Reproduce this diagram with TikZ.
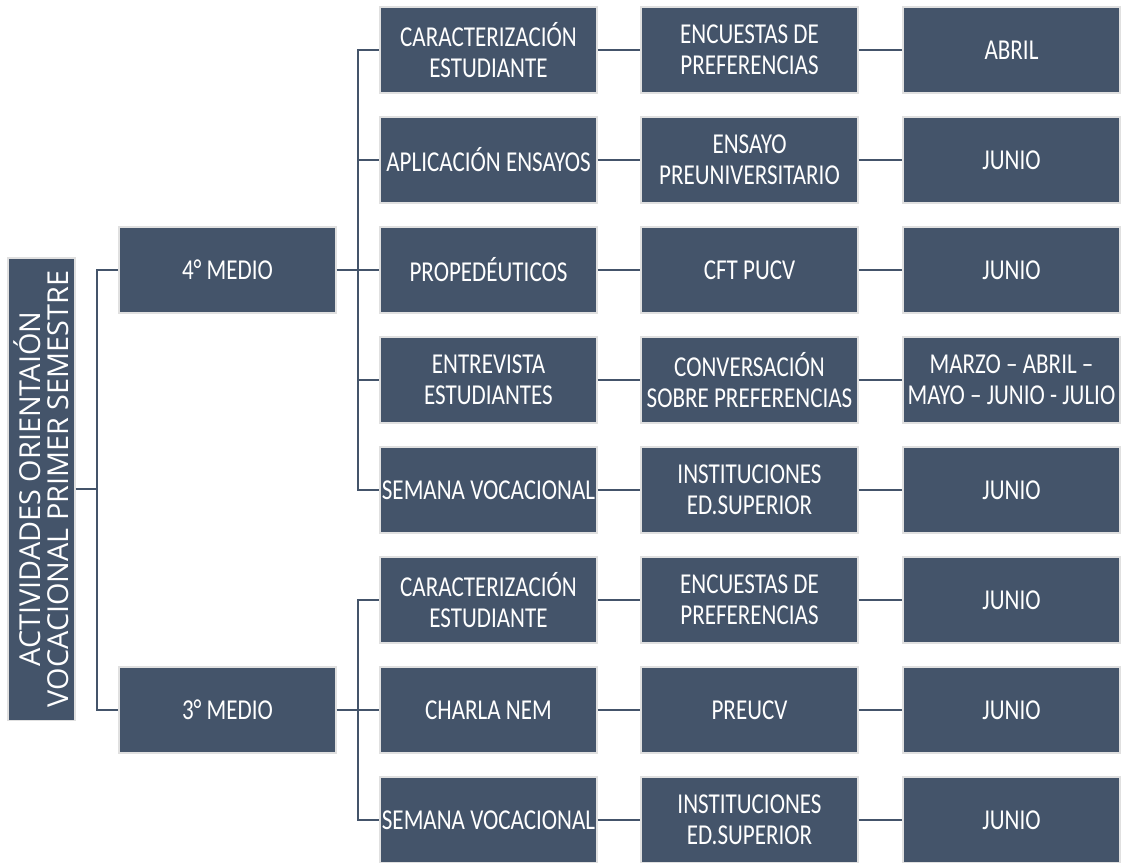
\documentclass[tikz,border=0pt]{standalone}
\usepackage{fontspec}
\setmainfont{Carlito}[FakeStretch=0.8]
\newfontfamily\titlefont{Open Sans}
\definecolor{slate}{HTML}{44546A}
\tikzset{
  box/.style={draw=black!12, line width=0.8pt, fill=slate, text=white,
    minimum width=5.425cm, minimum height=2.15cm, inner xsep=0pt, inner ysep=0pt,
    align=center, font=\fontsize{20.5}{22.2}\selectfont},
  link/.style={draw=slate, line width=1pt}
}

\begin{document}
\begin{tikzpicture}[x=0.025cm,y=-0.025cm]
  \useasboundingbox (0,0) rectangle (1123,862);
  % root, rotated (south anchor faces right)
  \node[box, rotate=90, minimum width=11.55cm, minimum height=1.675cm,
    font=\titlefont\fontsize{20.5}{20}\selectfont] (root) at (41.5,489)
    {ACTIVIDADES ORIENTAIÓN\\VOCACIONAL PRIMER SEMESTRE};
  \node[box] (m4) at (227.5,270) {4° MEDIO};
  \node[box] (m3) at (227.5,710) {3° MEDIO};

  % activities
  \node[box] (a1) at (488.5,50)  {CARACTERIZACIÓN\\ESTUDIANTE};
  \node[box] (a2) at (488.5,160) {APLICACIÓN ENSAYOS};
  \node[box] (a3) at (488.5,270) {PROPEDÉUTICOS};
  \node[box] (a4) at (488.5,380) {ENTREVISTA\\ESTUDIANTES};
  \node[box] (a5) at (488.5,490) {SEMANA VOCACIONAL};
  \node[box] (a6) at (488.5,600) {CARACTERIZACIÓN\\ESTUDIANTE};
  \node[box] (a7) at (488.5,710) {CHARLA NEM};
  \node[box] (a8) at (488.5,820) {SEMANA VOCACIONAL};

  % means
  \node[box] (b1) at (749.5,50)  {ENCUESTAS DE\\PREFERENCIAS};
  \node[box] (b2) at (749.5,160) {ENSAYO\\PREUNIVERSITARIO};
  \node[box] (b3) at (749.5,270) {CFT PUCV};
  \node[box] (b4) at (749.5,380) {CONVERSACIÓN\\SOBRE PREFERENCIAS};
  \node[box] (b5) at (749.5,490) {INSTITUCIONES\\ED.SUPERIOR};
  \node[box] (b6) at (749.5,600) {ENCUESTAS DE\\PREFERENCIAS};
  \node[box] (b7) at (749.5,710) {PREUCV};
  \node[box] (b8) at (749.5,820) {INSTITUCIONES\\ED.SUPERIOR};

  % dates
  \node[box] (c1) at (1011.5,50)  {ABRIL};
  \node[box] (c2) at (1011.5,160) {JUNIO};
  \node[box] (c3) at (1011.5,270) {JUNIO};
  \node[box] (c4) at (1011.5,380) {MARZO – ABRIL –\\MAYO – JUNIO - JULIO};
  \node[box] (c5) at (1011.5,490) {JUNIO};
  \node[box] (c6) at (1011.5,600) {JUNIO};
  \node[box] (c7) at (1011.5,710) {JUNIO};
  \node[box] (c8) at (1011.5,820) {JUNIO};

  % connectors
  \coordinate (j0) at (97,489);
  \coordinate (j4) at (358,270);
  \coordinate (j3) at (358,710);
  \draw[link] (root.south) -- (j0) |- (m4.west) (j0) |- (m3.west);
  \draw[link] (m4.east) -- (j4);
  \foreach \i in {1,...,5}
    \draw[link] (j4) |- (a\i.west);
  \draw[link] (m3.east) -- (j3);
  \foreach \i in {6,7,8}
    \draw[link] (j3) |- (a\i.west);
  \foreach \i in {1,...,8}
    \draw[link] (a\i) -- (b\i) (b\i) -- (c\i);
\end{tikzpicture}
\end{document}
